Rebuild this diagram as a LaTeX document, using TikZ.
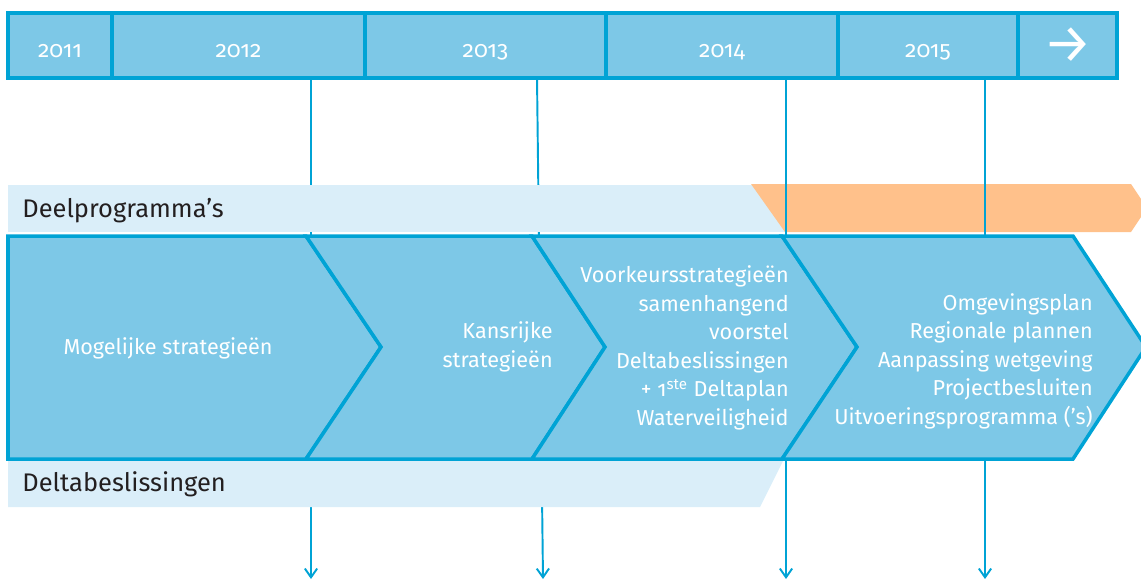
\documentclass[tikz,border=0pt]{standalone}
\usepackage{fontspec}
\setmainfont{Fira Sans}[Numbers=OldStyle]
\usetikzlibrary{arrows.meta}
\definecolor{boxfill}{HTML}{7DC8E7}
\definecolor{boxline}{HTML}{00A3D5}
\definecolor{bandfill}{HTML}{DAEEF9}
\definecolor{bandorange}{HTML}{FFC18B}
\definecolor{bandtext}{HTML}{231F20}
\begin{document}
\begin{tikzpicture}[x=0.02cm,y=-0.02cm,
        yearbox/.style={draw=boxline,fill=boxfill,line width=2pt},
        yeartext/.style={text=white,font=\fontsize{13}{15}\selectfont,inner sep=0pt,anchor=base},
        chevron/.style={draw=boxline,fill=boxfill,line width=2pt,line join=miter},
        steptext/.style={text=white,font=\fontsize{12.3}{16.2}\selectfont,inner sep=0pt},
        bandlabel/.style={text=bandtext,font=\fontsize{14.5}{16}\selectfont,anchor=west,inner sep=0pt},
        link/.style={draw=boxline,line width=1.1pt},
        >={Straight Barb[length=5pt,width=7pt]}]
\useasboundingbox (0,0) rectangle (1141,582);

\foreach \a/\b/\t [count=\i] in {8/112/2011,112/365/2012,365/606/2013,606/838/2014,838/1018/2015}{
    \draw[yearbox] (\a,13) rectangle (\b,78);
    \node[yeartext] (y\i) at ({(\a+\b)/2},57) {\t};
}
\draw[yearbox] (1018,13) rectangle (1117,78);
\node[yeartext,anchor=center,font=\fontsize{31}{31}\selectfont] (y6) at (1068,45) {→};

\coordinate (s1) at (311,78);  \coordinate (e1) at (311,579);
\coordinate (s2) at (537,78);  \coordinate (e2) at (543,579);
\coordinate (s3) at (786,78);  \coordinate (e3) at (786,579);
\coordinate (s4) at (985,78);  \coordinate (e4) at (985,579);
\draw[link,->] (s1) -- (e1);
\draw[link,->] (s2) -- (e2);

\fill[bandfill] (8,185) rectangle (790,232);
\fill[bandorange] (751,184) -- (1131,184) -- (1147,208) -- (1131,232) -- (785,232) -- cycle;
\fill[bandfill] (8,459) -- (784,459) -- (760,507) -- (8,507) -- cycle;
\node[bandlabel] (deel) at (22,211) {Deelprogramma’s};
\node[bandlabel] (delta) at (22,484) {Deltabeslissingen};

\draw[link,->] (s3) -- (e3);
\draw[link,->] (s4) -- (e4);

\draw[chevron] (8,236) -- (306,236) -- (381,347) -- (306,459) -- (8,459) -- cycle;
\draw[chevron] (306,236) -- (532,236) -- (605,347) -- (532,459) -- (306,459) -- (381,347) -- cycle;
\draw[chevron] (532,236) -- (782,236) -- (857,347) -- (782,459) -- (532,459) -- (605,347) -- cycle;
\draw[chevron] (782,236) -- (1073,236) -- (1146,347) -- (1073,459) -- (782,459) -- (857,347) -- cycle;

\node[steptext,align=center] (c1) at (168,348) {Mogelijke strategieën};
\node[steptext,align=right,anchor=east] (c2) at (553,347) {Kansrijke\\strategieën};
\node[steptext,align=right,anchor=east] (c3) at (789,348) {Voorkeursstrategieën\\samenhangend\\voorstel\\Deltabeslissingen\\+ 1\textsuperscript{ste} Deltaplan\\Waterveiligheid};
\node[steptext,align=right,anchor=east] (c4) at (1093,361) {Omgevingsplan\\Regionale plannen\\Aanpassing wetgeving\\Projectbesluiten\\Uitvoeringsprogramma (’s)};
\end{tikzpicture}
\end{document}
